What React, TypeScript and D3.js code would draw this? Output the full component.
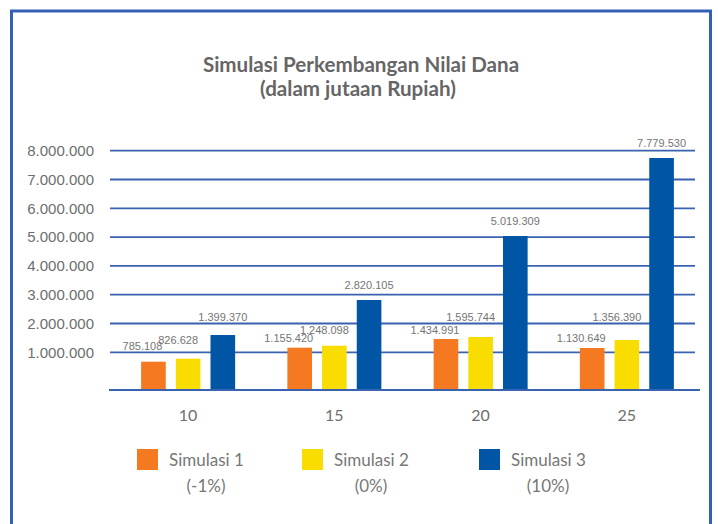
import React from 'react';
import * as d3 from 'd3';

// data
const categories = ['10', '15', '20', '25'];
const seriesNames = ['Simulasi 1', 'Simulasi 2', 'Simulasi 3'];
const seriesRates = ['(-1%)', '(0%)', '(10%)'];
const colors = ['#F47920', '#F9DC00', '#0056A4'];

const sim1 = [674000, 1160000, 1462000, 1149000];
const sim2 = [778000, 1229000, 1531000, 1427000];
const sim3 = [1600000, 2816000, 5038000, 7747000];

const sim1Labels = ['785.108', '1.155.420', '1.434.991', '1.130.649'];
const sim2Labels = ['826.628', '1.248.098', '1.595.744', '1.356.390'];
const sim3Labels = ['1.399.370', '2.820.105', '5.019.309', '7.779.530'];

const yTicks = [1000000, 2000000, 3000000, 4000000, 5000000, 6000000, 7000000, 8000000];

const W = 718;
const H = 524;

const values = [sim1, sim2, sim3];
const labels = [sim1Labels, sim2Labels, sim3Labels];

// label nudges per series so the numbers don't sit on top of each other
const labelDx = [-11, -10, 0];
const labelDy = [-10, -19, -15];

const fmt = d3.formatLocale({ decimal: ',', thousands: '.', grouping: [3], currency: ['', ''] }).format(',');

const App = () => {
  const x = d3.scaleBand().domain(categories).range([115, 700]);
  const inner = d3.scaleBand().domain(seriesNames).range([-47, 47]).paddingInner(0.29);
  const y = d3.scaleLinear().domain([-309000, 8000000]).range([390, 150.7]);

  const legendX = [137, 302, 479];
  const grey = '#6e6e6e';
  const font = 'Lato, "Open Sans", sans-serif';

  // keep value labels off the gridlines: push to the nearer side
  const labelY = (yc: number) => {
    for (const t of yTicks) {
      const gy = y(t);
      if (Math.abs(yc - gy) < 6) return yc < gy ? gy - 6.5 : gy + 6.5;
    }
    return yc;
  };

  return (
    <svg width={W} height={H} style={{ position: 'absolute', left: 0, top: 0, background: '#fff' }}>
      <rect x={11.5} y={11} width={699} height={H} fill="#fff" stroke="#3360b5" strokeWidth={3} />

      <text x={361} y={72} textAnchor="middle" fontFamily={font} fontWeight="bold" fontSize={20.6} fill="#666">
        Simulasi Perkembangan Nilai Dana
      </text>
      <text x={358} y={96} textAnchor="middle" fontFamily={font} fontWeight="bold" fontSize={20.6} fill="#666">
        (dalam jutaan Rupiah)
      </text>

      {yTicks.map(t => (
        <g key={t}>
          <line x1={110} x2={695} y1={y(t)} y2={y(t)} stroke="#3b62b0" strokeWidth={1.8} />
          <text x={94} y={y(t)} dy="0.35em" textAnchor="end" fontFamily='"Liberation Sans", Arial, sans-serif' fontSize={15} fill={grey}>
            {fmt(t)}
          </text>
        </g>
      ))}

      {categories.map((c, i) => {
        const cx = x(c)! + x.bandwidth() / 2;
        return (
          <g key={c}>
            {seriesNames.map((s, k) => {
              const bx = cx + inner(s)!;
              const top = y(values[k][i]);
              return (
                <g key={s}>
                  <rect x={bx} y={top} width={inner.bandwidth()} height={y.range()[0] - top} fill={colors[k]} />
                  <text
                    x={bx + inner.bandwidth() / 2 + labelDx[k]}
                    y={labelY(top + labelDy[k])}
                    dy="0.35em"
                    textAnchor="middle"
                    fontFamily='"Liberation Sans", Arial, sans-serif'
                    fontSize={11}
                    fill="#757575"
                  >
                    {labels[k][i]}
                  </text>
                </g>
              );
            })}
            <text x={cx} y={415} dy="0.35em" textAnchor="middle" fontFamily={font} fontSize={16} fill={grey}>
              {c}
            </text>
          </g>
        );
      })}

      <line x1={109} x2={700} y1={390} y2={390} stroke="#3b62b0" strokeWidth={1.8} />

      {seriesNames.map((s, k) => (
        <g key={s} transform={`translate(${legendX[k]},449)`}>
          <rect width={21} height={21} fill={colors[k]} />
          <text x={32} y={17} fontFamily={font} fontSize={17} fill="#777">
            {s}
          </text>
          <text x={32 + 37} y={43} textAnchor="middle" fontFamily={font} fontSize={17} fill="#777">
            {seriesRates[k]}
          </text>
        </g>
      ))}
    </svg>
  );
};

export default App;
